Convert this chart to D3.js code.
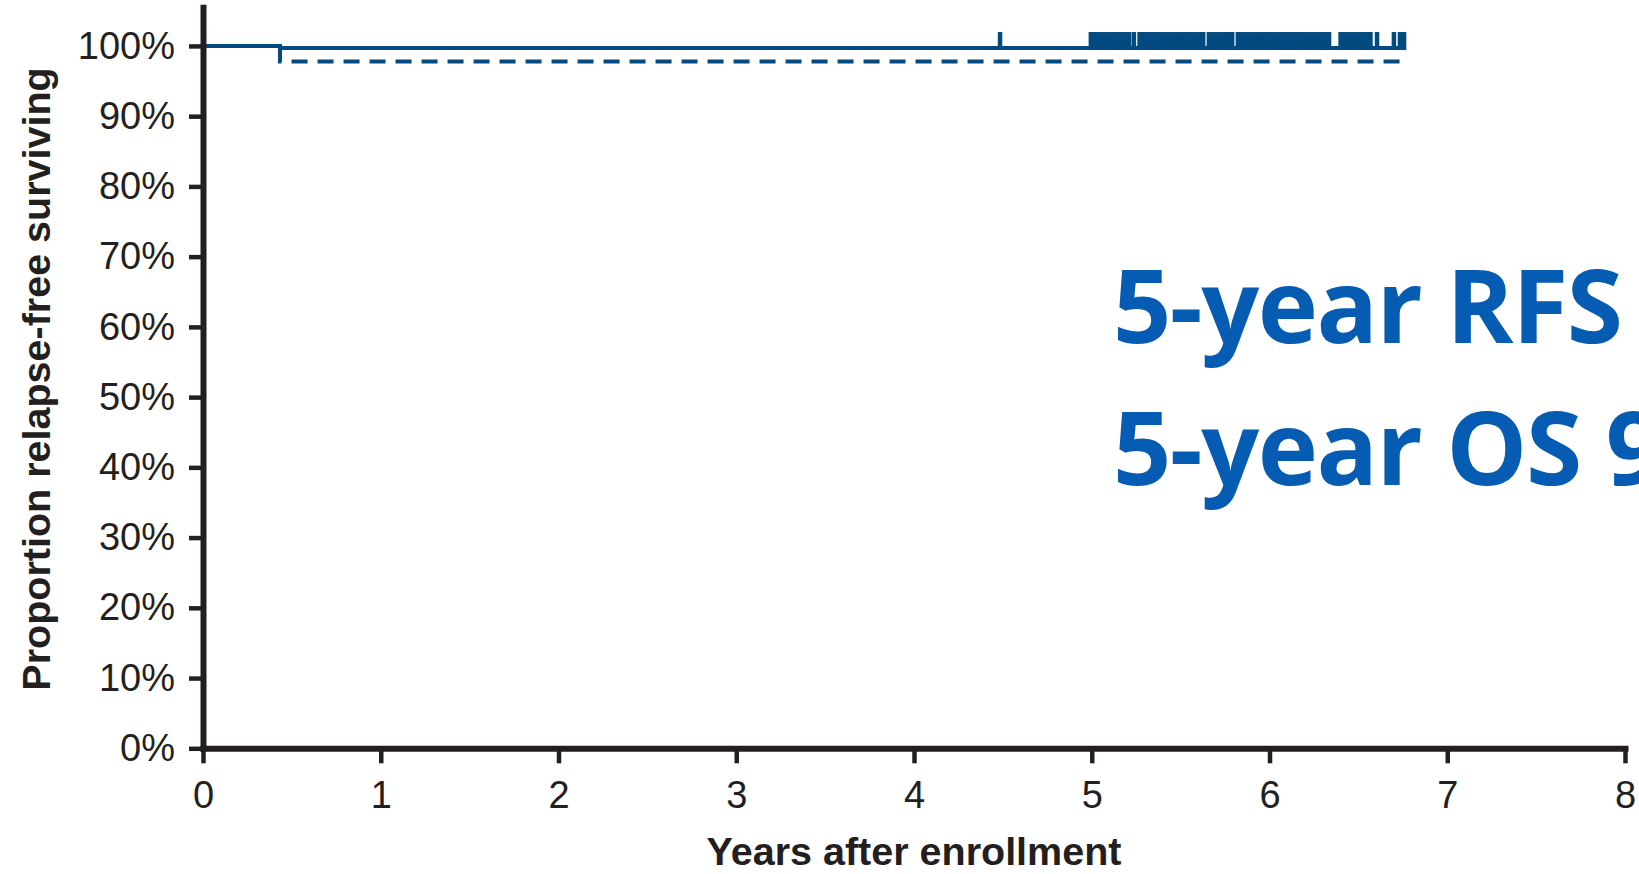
<!DOCTYPE html>
<html>
<head>
<meta charset="utf-8">
<script src="https://cdn.jsdelivr.net/npm/d3@7"></script>
<style>
  body { margin: 0; background: #ffffff; }
  svg { display: block; }
</style>
</head>
<body>
<svg id="chart" width="1639" height="874"></svg>
<script>
// ---- data ----
const xTickValues = [0, 1, 2, 3, 4, 5, 6, 7, 8];
const yTickValues = [0, 10, 20, 30, 40, 50, 60, 70, 80, 90, 100];

// solid curve (step points: time in years, percent surviving)
const solidTimes = [0, 0.433, 6.762];
const solidValues = [100, 99.7, 99.7];

// dashed curve
const dashedTimes = [0, 0.433, 6.762];
const dashedValues = [100, 97.8, 97.8];

// censoring marks on the solid curve (years)
const censorTimes = [
  4.484,
  4.995, 5.01, 5.03, 5.05, 5.07, 5.09, 5.11, 5.13, 5.15, 5.17, 5.19, 5.21, 5.237,
  5.269, 5.29, 5.31, 5.33, 5.35, 5.37, 5.39, 5.41, 5.43, 5.45, 5.47, 5.49, 5.51, 5.53,
  5.55, 5.57, 5.59, 5.61, 5.627,
  5.659, 5.68, 5.70, 5.72, 5.74, 5.76, 5.78, 5.79,
  5.822, 5.84, 5.86, 5.88, 5.90, 5.92, 5.94, 5.96, 5.98, 6.00, 6.02, 6.04, 6.06, 6.08,
  6.10, 6.12, 6.14, 6.16, 6.18, 6.20, 6.22, 6.24, 6.26, 6.28, 6.30, 6.32, 6.335,
  6.40, 6.42, 6.44, 6.46, 6.48, 6.50, 6.52, 6.54, 6.56, 6.568,
  6.605, 6.70, 6.734, 6.757
];

const annotationLines = ["5-year RFS", "5-year OS 9"];
const xTitle = "Years after enrollment";
const yTitle = "Proportion relapse-free surviving";

// ---- drawing ----
const svg = d3.select("#chart");
const axisColor = "#231f20";
const curveColor = "#034a80";
const noteColor = "#065cb3";

const x = d3.scaleLinear().domain([0, 8]).range([203, 1625]);
const y = d3.scaleLinear().domain([0, 105.5]).range([748.3, 7.3]);

// curves
const line = d3.line()
  .x(d => x(d[0]))
  .y(d => y(d[1]))
  .curve(d3.curveStepAfter);

const dashedPts = dashedTimes.map((t, i) => [t, dashedValues[i]]);
const solidPts = solidTimes.map((t, i) => [t, solidValues[i]]);

svg.append("path")
  .attr("d", line(dashedPts))
  .attr("fill", "none")
  .attr("stroke", curveColor)
  .attr("stroke-width", 4)
  .attr("stroke-dasharray", "16,10");

svg.append("path")
  .attr("d", line(solidPts))
  .attr("fill", "none")
  .attr("stroke", curveColor)
  .attr("stroke-width", 4);

// censor ticks
function solidAt(t) {
  const i = Math.max(0, d3.bisectRight(solidTimes, t) - 1);
  return solidValues[i];
}
svg.append("g")
  .selectAll("line")
  .data(censorTimes)
  .join("line")
  .attr("x1", d => x(d))
  .attr("x2", d => x(d))
  .attr("y1", d => y(solidAt(d)) + 2)
  .attr("y2", d => y(solidAt(d)) - 16)
  .attr("stroke", curveColor)
  .attr("stroke-width", 4.5);

// axes
const gx = svg.append("g")
  .attr("transform", `translate(0,${y(0)})`)
  .call(d3.axisBottom(x)
    .tickValues(xTickValues)
    .tickSize(15)
    .tickSizeOuter(0)
    .tickPadding(18));

const gy = svg.append("g")
  .attr("transform", `translate(${x(0)},0)`)
  .call(d3.axisLeft(y)
    .tickValues(yTickValues)
    .tickFormat(d => d + "%")
    .tickSize(14)
    .tickSizeOuter(0)
    .tickPadding(14));

[gx, gy].forEach(g => {
  g.select(".domain")
    .attr("stroke", axisColor)
    .attr("stroke-width", 6)
    .attr("stroke-linecap", "square");
  g.selectAll(".tick line")
    .attr("stroke", axisColor)
    .attr("stroke-width", 4.5);
  g.selectAll(".tick text")
    .attr("fill", axisColor)
    .style("font-family", "'Liberation Sans', Arial, sans-serif")
    .style("font-size", "38px");
});

// axis titles
svg.append("text")
  .attr("x", 914)
  .attr("y", 865)
  .attr("text-anchor", "middle")
  .attr("fill", axisColor)
  .style("font-family", "'Liberation Sans', Arial, sans-serif")
  .style("font-weight", "bold")
  .style("font-size", "39.5px")
  .text(xTitle);

svg.append("text")
  .attr("transform", "translate(50,379) rotate(-90)")
  .attr("text-anchor", "middle")
  .attr("fill", axisColor)
  .style("font-family", "'Liberation Sans', Arial, sans-serif")
  .style("font-weight", "bold")
  .style("font-size", "39.5px")
  .text(yTitle);

// annotation
const note = svg.append("text")
  .attr("fill", noteColor)
  .style("font-family", "'Open Sans', sans-serif")
  .style("font-weight", "700")
  .style("font-size", "102px")
  .style("letter-spacing", "-1.5px");
note.selectAll("tspan")
  .data(annotationLines)
  .join("tspan")
  .attr("x", 1113)
  .attr("y", (d, i) => i === 0 ? 343 : 485)
  .text(d => d);
</script>
</body>
</html>
